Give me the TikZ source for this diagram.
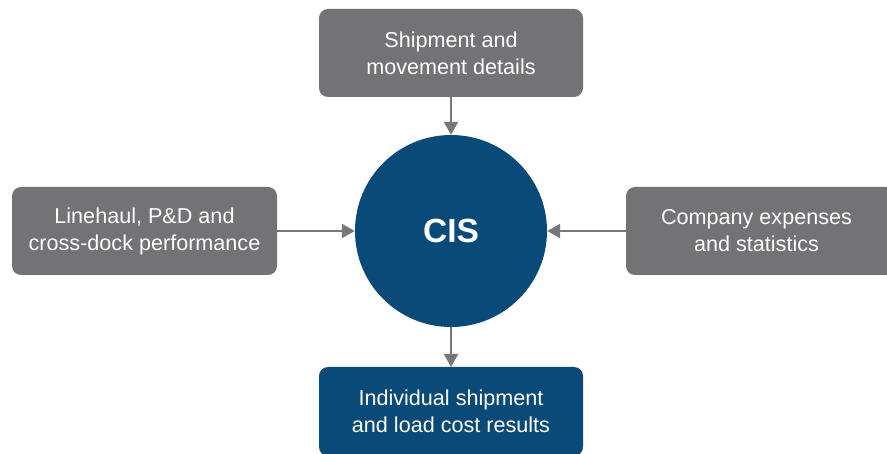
\documentclass[tikz,border=0pt]{standalone}
\usepackage{fontspec}
\setmainfont{Liberation Sans}
\usetikzlibrary{arrows.meta}
\definecolor{boxgray}{HTML}{737376}
\definecolor{cisblue}{HTML}{094A78}
\definecolor{arrowgray}{HTML}{77777B}
\tikzset{
  box/.style={rounded corners=9pt, inner sep=0pt, text=white, align=center,
    font=\fontsize{21.6}{27}\selectfont},
  graybox/.style={box, fill=boxgray},
  bluebox/.style={box, fill=cisblue},
  conn/.style={draw=arrowgray, line width=2.2pt,
    -{Triangle[width=14pt,length=13pt]}, arrowgray}
}
\begin{document}
\begin{tikzpicture}[x=1pt,y=-1pt]
\useasboundingbox (0,0) rectangle (887,454);
\fill[graybox] (319,9) rectangle (583,97);
\node[box] (top) at (451,53) {Shipment and\\movement details};
\coordinate (topb) at (451,97);
\fill[graybox] (12,187) rectangle (277,275);
\node[box] (left) at (144.5,231) {Linehaul, P\&D and\\cross-dock performance};
\coordinate (leftb) at (277,231);
\fill[graybox] (626,187) rectangle (895,275);
\node[box] (right) at (756.5,231) {Company expenses\\and statistics};
\coordinate (rightb) at (626,231);
\fill[bluebox] (319,367) rectangle (583,456);
\node[box] (bot) at (451,411) {Individual shipment\\and load cost results};
\coordinate (botb) at (451,367);
\node[circle, fill=cisblue, minimum size=192pt, inner sep=0pt, text=white,
  font=\fontsize{33.5}{40}\bfseries\selectfont] (cis) at (451,231) {CIS};
\draw[conn] (topb) -- (cis.north);
\draw[conn] (leftb) -- (cis.west);
\draw[conn] (rightb) -- (cis.east);
\draw[conn] (cis.south) -- (botb);
\end{tikzpicture}
\end{document}
